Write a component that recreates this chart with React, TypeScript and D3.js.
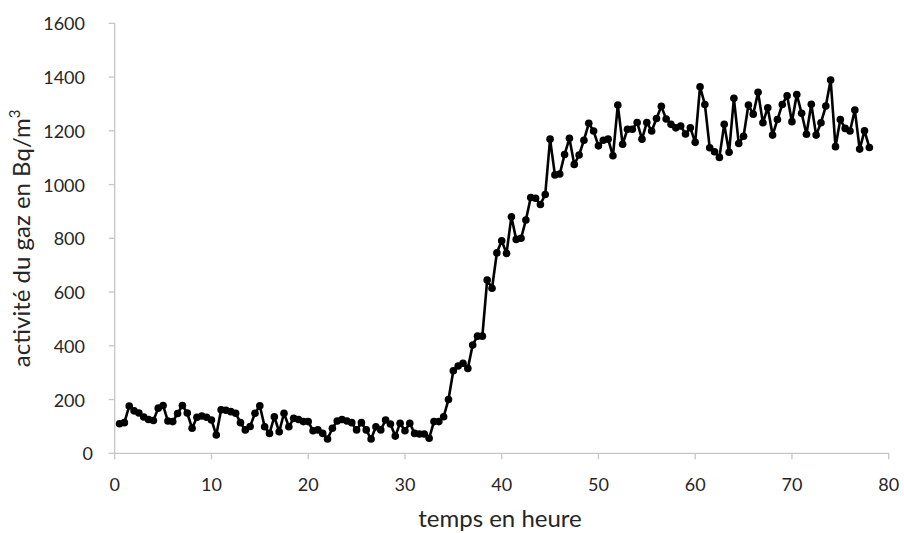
import React from "react";
import * as d3 from "d3";

const startHour = 0.5;
const stepHour = 0.5;
const activity = [
  110, 114, 176, 158, 150, 135, 126, 122, 168, 178, 120, 118, 148, 178, 150, 93, 134, 139, 134, 124,
  68, 162, 160, 155, 149, 114, 87, 100, 149, 177, 99, 74, 136, 80, 149, 99, 130, 126, 118, 118,
  84, 87, 74, 53, 93, 120, 126, 120, 114, 87, 114, 87, 53, 99, 87, 124, 109, 64, 112, 84,
  112, 74, 72, 72, 56, 118, 118, 136, 200, 307, 325, 335, 316, 403, 436, 436, 645, 614, 746, 791,
  744, 880, 796, 800, 868, 952, 949, 926, 963, 1169, 1036, 1039, 1112, 1172, 1075, 1110, 1165, 1228, 1199, 1144,
  1165, 1169, 1107, 1296, 1150, 1206, 1206, 1231, 1169, 1231, 1199, 1246, 1291, 1244, 1224, 1211, 1218, 1188, 1211, 1157,
  1364, 1298, 1137, 1122, 1101, 1224, 1120, 1321, 1153, 1180, 1296, 1262, 1343, 1230, 1286, 1184, 1242, 1298, 1330, 1234,
  1335, 1265, 1187, 1299, 1184, 1230, 1292, 1389, 1141, 1242, 1209, 1199, 1277, 1132, 1200, 1138,
];
const xTicks = [0, 10, 20, 30, 40, 50, 60, 70, 80];
const yTicks = [0, 200, 400, 600, 800, 1000, 1200, 1400, 1600];
const xTitle = "temps en heure";

export default function App() {
  const W = 904, H = 533;
  const x = d3.scaleLinear().domain([0, 80]).range([114.7, 888.7]);
  const y = d3.scaleLinear().domain([0, 1600]).range([453.3, 23.3]);
  const pts = activity.map((v, i) => ({ h: startHour + i * stepHour, v }));
  const line = d3.line<{ h: number; v: number }>().x(d => x(d.h)).y(d => y(d.v));
  const font = "Lato, 'Open Sans', sans-serif";
  const axisColor = "#c6c6c6";
  const textColor = "#262626";
  const tickFs = 18;
  const titleFs = 24;
  return (
    <svg width={W} height={H} style={{ position: "absolute", left: 0, top: 0, background: "#fff" }} fontFamily={font}>
      <rect x={0} y={0} width={W} height={H} fill="#fff" />
      {/* y axis */}
      <line x1={x(0)} x2={x(0)} y1={y(0)} y2={y(1600)} stroke={axisColor} strokeWidth={1.3} />
      {yTicks.map(t => (
        <g key={"y" + t}>
          <line x1={x(0) - 6} x2={x(0)} y1={y(t)} y2={y(t)} stroke={axisColor} strokeWidth={1.3} />
          <text x={t === 0 ? 93 : 85} y={y(t)} textAnchor="end" dominantBaseline="central" fontSize={tickFs} fill={textColor}>{t}</text>
        </g>
      ))}
      {/* x axis */}
      <line x1={x(0)} x2={x(80)} y1={y(0)} y2={y(0)} stroke={axisColor} strokeWidth={1.3} />
      {xTicks.map(t => (
        <g key={"x" + t}>
          <line x1={x(t)} x2={x(t)} y1={y(0)} y2={y(0) + 6} stroke={axisColor} strokeWidth={1.3} />
          <text x={x(t)} y={483.5} textAnchor="middle" dominantBaseline="central" fontSize={tickFs} fill={textColor}>{t}</text>
        </g>
      ))}
      <text x={500} y={527} textAnchor="middle" fontSize={titleFs} fill={textColor}>{xTitle}</text>
      <text transform={`translate(30, ${(y(0) + y(1600)) / 2}) rotate(-90)`} textAnchor="middle" fontSize={titleFs} fill={textColor}>
        activité du gaz en Bq/m<tspan fontSize={15} dy={-10}>3</tspan>
      </text>
      <path d={line(pts) || ""} fill="none" stroke="#000" strokeWidth={2.6} strokeLinejoin="round" />
      {pts.map((p, i) => (
        <circle key={i} cx={x(p.h)} cy={y(p.v)} r={3.8} fill="#000" />
      ))}
    </svg>
  );
}
